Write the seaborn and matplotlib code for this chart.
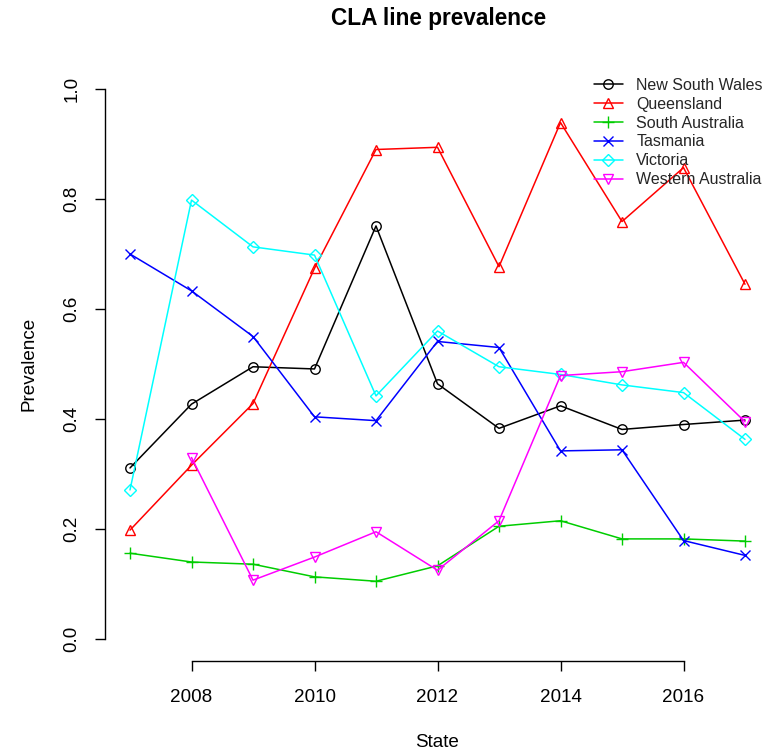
import numpy as np
import pandas as pd
import matplotlib
matplotlib.use("Agg")
import matplotlib.pyplot as plt
import seaborn as sns

# Prevalence of the CLA line by state and year
years = [2007, 2008, 2009, 2010, 2011, 2012, 2013, 2014, 2015, 2016, 2017]
states = ["New South Wales", "Queensland", "South Australia",
          "Tasmania", "Victoria", "Western Australia"]

nsw = [0.311, 0.427, 0.495, 0.491, 0.751, 0.464, 0.383, 0.424, 0.381, 0.390, 0.398]
qld = [0.198, 0.316, 0.428, 0.674, 0.890, 0.894, 0.677, 0.939, 0.759, 0.857, 0.645]
sa = [0.156, 0.140, 0.136, 0.113, 0.105, 0.133, 0.205, 0.215, 0.182, 0.182, 0.178]
tas = [0.700, 0.633, 0.550, 0.404, 0.397, 0.541, 0.530, 0.342, 0.344, 0.179, 0.152]
vic = [0.271, 0.798, 0.713, 0.698, 0.442, 0.560, 0.495, 0.481, 0.462, 0.448, 0.363]
wa = [np.nan, 0.330, 0.107, 0.149, 0.195, 0.125, 0.215, 0.479, 0.486, 0.503, 0.395]

series = [nsw, qld, sa, tas, vic, wa]
colors = ["black", "#FF0000", "#00CD00", "#0000FF", "#00FFFF", "#FF00FF"]
markers = ["o", "^", "+", "x", "D", "v"]
msizes = [6.8, 7.6, 9.0, 7.6, 6.0, 7.6]

sns.set_theme(style="white")
plt.rcParams["font.family"] = ["Liberation Sans", "DejaVu Sans"]

W, H = 771, 755
fig = plt.figure(figsize=(W / 100, H / 100), dpi=100)
left, right, top, bottom = 105.4, 769.6, 67.0, 661.0
ax = fig.add_axes([left / W, (H - bottom) / H, (right - left) / W, (bottom - top) / H])

for name, vals, c, m, ms in zip(states, series, colors, markers, msizes):
    df = pd.DataFrame({"year": years, "prev": vals}).dropna()
    sns.lineplot(data=df, x="year", y="prev", ax=ax, color=c, marker=m,
                 markersize=ms, markerfacecolor="none", markeredgecolor=c,
                 markeredgewidth=1.0, linewidth=1.1, label=name)

ax.set_xlim(2006.6, 2017.4)
ax.set_ylim(-0.04, 1.04)
ax.set_xticks([2008, 2010, 2012, 2014, 2016])
ax.set_yticks([0.0, 0.2, 0.4, 0.6, 0.8, 1.0])
ax.set_yticklabels(["0.0", "0.2", "0.4", "0.6", "0.8", "1.0"], rotation=90, va="center")

for s in ["top", "right"]:
    ax.spines[s].set_visible(False)
ax.spines["left"].set_bounds(0.0, 1.0)
ax.spines["bottom"].set_bounds(2008, 2016)
for s in ["left", "bottom"]:
    ax.spines[s].set_color("black")
    ax.spines[s].set_linewidth(1.0)

ax.tick_params(axis="both", which="major", direction="out", length=7.5, width=1.0,
               color="black", labelsize=13.6, labelcolor="black",
               bottom=True, left=True)
ax.tick_params(axis="x", pad=12.5)
ax.tick_params(axis="y", pad=10.5)

ax.set_xlabel("State", fontsize=13.6, labelpad=20, color="black")
ax.set_ylabel("Prevalence", fontsize=13.6, labelpad=19, color="black")
fig.text(438.5 / W, 1 - 18 / H, "CLA line prevalence", ha="center", va="center",
         fontsize=16.3, fontweight="bold", color="black")

leg = ax.legend(loc="upper left", bbox_to_anchor=(594 / W, 1 - 78 / H),
                bbox_transform=fig.transFigure, frameon=False, fontsize=11.5,
                handlelength=1.8, handletextpad=0.85, labelspacing=0.24,
                borderpad=0, borderaxespad=0)

fig.savefig("out.png", dpi=100)
